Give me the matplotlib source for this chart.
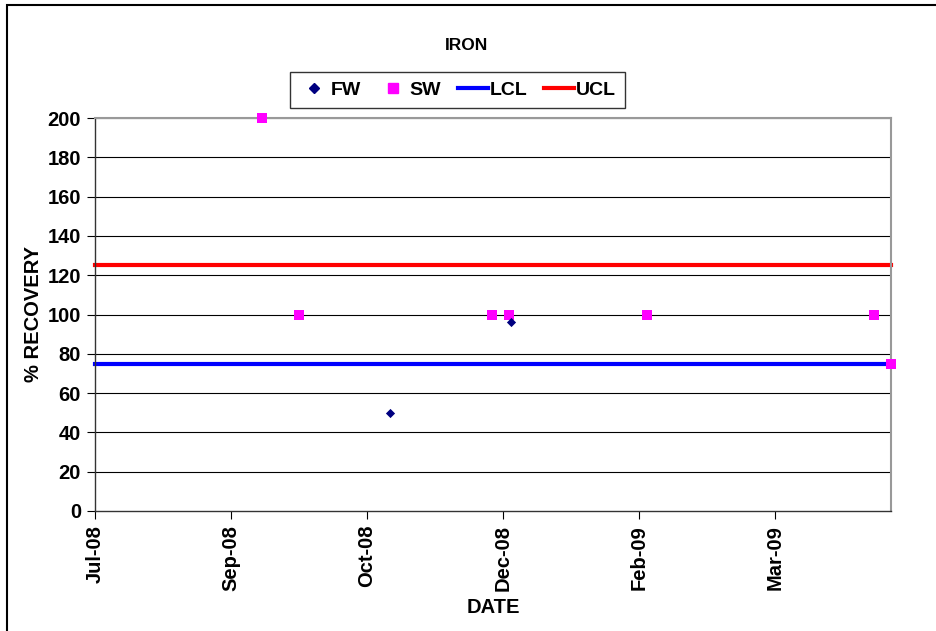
import matplotlib
matplotlib.use("Agg")
import matplotlib.pyplot as plt
from matplotlib.lines import Line2D
from matplotlib.patches import Rectangle
import datetime as dt

plt.rcParams['font.family'] = ['Liberation Sans', 'DejaVu Sans']
plt.rcParams['font.weight'] = 'bold'

# ---- data ----
fw_dates = ["2008-11-06", "2008-12-19"]
fw_values = [50, 96]
sw_dates = ["2008-09-22", "2008-10-05", "2008-12-12", "2008-12-18",
            "2009-02-05", "2009-04-26", "2009-05-02"]
sw_values = [200, 100, 100, 100, 100, 100, 75]
lcl = 75
ucl = 125
x_start = "2008-07-25"
x_end = "2009-05-02"
tick_step_days = 48
n_ticks = 6
y_ticks = [0, 20, 40, 60, 80, 100, 120, 140, 160, 180, 200]

def d(s):
    return dt.datetime.strptime(s, "%Y-%m-%d")

fig = plt.figure(figsize=(9.36, 6.31), dpi=100)
W, H = 936, 631
ax = fig.add_axes([95 / W, 1 - 511 / H, (891 - 95) / W, (511 - 118) / H])

xs, xe = d(x_start), d(x_end)
ax.set_xlim(xs, xe)
ax.set_ylim(0, 200)

for v in y_ticks[1:]:
    ax.axhline(v, color='black', lw=0.8, zorder=1)

ax.plot([xs, xe], [lcl, lcl], color='#0000FF', lw=3, zorder=2, clip_on=False)
ax.plot([xs, xe], [ucl, ucl], color='#FF0000', lw=3, zorder=2, clip_on=False)

ax.scatter([d(s) for s in fw_dates], fw_values, marker='D', s=22,
           color='#000080', zorder=4, clip_on=False, linewidths=0)
ax.scatter([d(s) for s in sw_dates], sw_values, marker='s', s=50,
           color='#FF00FF', zorder=3, clip_on=False, linewidths=0)

ticks = [xs + dt.timedelta(days=tick_step_days * k) for k in range(n_ticks)]
ax.set_xticks(ticks)
ax.set_xticklabels([t.strftime("%b-%y") for t in ticks], rotation=90,
                   fontsize=14.5, fontweight='bold')
ax.set_yticks(y_ticks)
ax.set_yticklabels([str(v) for v in y_ticks], fontsize=14.5, fontweight='bold')
ax.tick_params(axis='both', direction='out', length=6, width=0.8, colors='black', pad=4)

for side in ['top', 'right']:
    ax.spines[side].set_color('#999999')
    ax.spines[side].set_linewidth(1.5)
for side in ['left', 'bottom']:
    ax.spines[side].set_color('#333333')
    ax.spines[side].set_linewidth(1)

ax.set_xlabel("DATE", fontsize=14.5, fontweight='bold', labelpad=5)
ax.set_ylabel("% RECOVERY", fontsize=14.5, fontweight='bold', labelpad=3)

fig.text(466 / W, 1 - 46 / H, "IRON", ha='center', va='center',
         fontsize=12.5, fontweight='bold')

handles = [
    Line2D([], [], marker='D', color='#000080', ls='none', markersize=5),
    Line2D([], [], marker='s', color='#FF00FF', ls='none', markersize=7),
    Line2D([], [], color='#0000FF', lw=3),
    Line2D([], [], color='#FF0000', lw=3),
]
leg = fig.legend(handles, ["FW", "SW", "LCL", "UCL"], ncol=4,
                 loc='center', bbox_to_anchor=(457.5 / W, 1 - 90 / H),
                 frameon=True, fancybox=False, edgecolor='black',
                 prop={'size': 14, 'weight': 'bold'}, handlelength=1.55,
                 columnspacing=0.85, handletextpad=0.1, borderpad=0.45)
leg.get_frame().set_linewidth(1)

fig.patches.append(Rectangle((7 / W, -0.05), 1.0, 1 - 5 / H + 0.05,
                             transform=fig.transFigure, fill=False,
                             edgecolor='black', lw=1.5))

fig.savefig("out.png", dpi=100)
